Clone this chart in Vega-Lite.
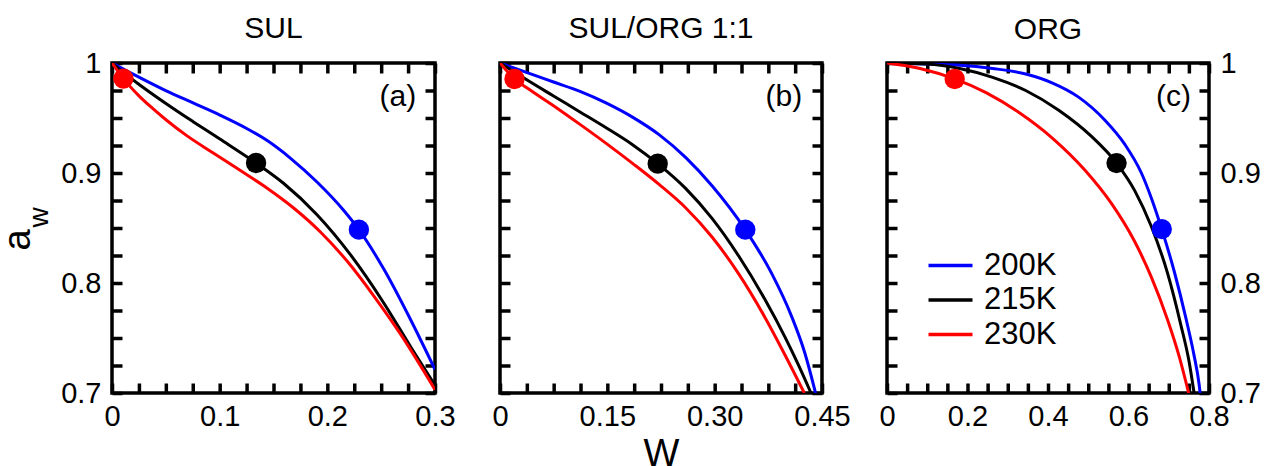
{
  "$schema": "https://vega.github.io/schema/vega-lite/v6.json",
  "background": "white",
  "padding": {"left": -3, "top": 12, "right": 5, "bottom": 0},
  "bounds": "flush",
  "spacing": 65,
  "config": {
    "view": {"stroke": "black", "strokeWidth": 3.5},
    "font": "Liberation Sans",
    "axis": {"domain": false, "grid": false, "tickColor": "black", "tickWidth": 3.5, "tickSize": -10, "tickRound": false,
      "labelFont": "Liberation Sans", "labelFontSize": 29, "labelColor": "black", "labelFlush": false, "labelOverlap": false, "labelBound": false,
      "titleFont": "Liberation Sans", "titleFontWeight": "normal", "titleColor": "black"},
    "title": {"font": "Liberation Sans", "fontSize": 30, "fontWeight": "normal", "color": "black", "baseline": "alphabetic", "frame": "group", "anchor": "middle"}
  },
  "datasets": {
    "curves": [
      {"panel":"a","T":"200K","W":0,"aw":1.0},{"panel":"a","T":"200K","W":0.0255,"aw":0.9869},{"panel":"a","T":"200K","W":0.0504,"aw":0.9747},{"panel":"a","T":"200K","W":0.0753,"aw":0.9637},{"panel":"a","T":"200K","W":0.1002,"aw":0.9527},{"panel":"a","T":"200K","W":0.1251,"aw":0.9405},{"panel":"a","T":"200K","W":0.1438,"aw":0.9297},{"panel":"a","T":"200K","W":0.1656,"aw":0.9136},{"panel":"a","T":"200K","W":0.1904,"aw":0.8918},{"panel":"a","T":"200K","W":0.2153,"aw":0.8659},{"panel":"a","T":"200K","W":0.2293,"aw":0.8485},{"panel":"a","T":"200K","W":0.2527,"aw":0.8122},{"panel":"a","T":"200K","W":0.2776,"aw":0.7661},{"panel":"a","T":"200K","W":0.30,"aw":0.7213},
      {"panel":"a","T":"215K","W":0,"aw":1.0},{"panel":"a","T":"215K","W":0.0131,"aw":0.9894},{"panel":"a","T":"215K","W":0.0255,"aw":0.9803},{"panel":"a","T":"215K","W":0.0504,"aw":0.9630},{"panel":"a","T":"215K","W":0.0753,"aw":0.9467},{"panel":"a","T":"215K","W":0.1002,"aw":0.9309},{"panel":"a","T":"215K","W":0.1338,"aw":0.9091},{"panel":"a","T":"215K","W":0.1593,"aw":0.8907},{"panel":"a","T":"215K","W":0.1904,"aw":0.8621},{"panel":"a","T":"215K","W":0.2216,"aw":0.8256},{"panel":"a","T":"215K","W":0.2527,"aw":0.7814},{"panel":"a","T":"215K","W":0.2776,"aw":0.7416},{"panel":"a","T":"215K","W":0.30,"aw":0.7069},
      {"panel":"a","T":"230K","W":0,"aw":1.0},{"panel":"a","T":"230K","W":0.0106,"aw":0.9858},{"panel":"a","T":"230K","W":0.0255,"aw":0.9697},{"panel":"a","T":"230K","W":0.038,"aw":0.9585},{"panel":"a","T":"230K","W":0.0504,"aw":0.9482},{"panel":"a","T":"230K","W":0.0691,"aw":0.9342},{"panel":"a","T":"230K","W":0.094,"aw":0.9182},{"panel":"a","T":"230K","W":0.1189,"aw":0.9024},{"panel":"a","T":"230K","W":0.1438,"aw":0.8864},{"panel":"a","T":"230K","W":0.1687,"aw":0.8682},{"panel":"a","T":"230K","W":0.1936,"aw":0.8464},{"panel":"a","T":"230K","W":0.2185,"aw":0.8197},{"panel":"a","T":"230K","W":0.2434,"aw":0.7879},{"panel":"a","T":"230K","W":0.2683,"aw":0.7530},{"panel":"a","T":"230K","W":0.30,"aw":0.7030},

      {"panel":"b","T":"200K","W":0,"aw":1.0},{"panel":"b","T":"200K","W":0.0379,"aw":0.9912},{"panel":"b","T":"200K","W":0.0748,"aw":0.9827},{"panel":"b","T":"200K","W":0.1118,"aw":0.9742},{"panel":"b","T":"200K","W":0.1488,"aw":0.9635},{"panel":"b","T":"200K","W":0.1857,"aw":0.9506},{"panel":"b","T":"200K","W":0.2227,"aw":0.9347},{"panel":"b","T":"200K","W":0.2597,"aw":0.9140},{"panel":"b","T":"200K","W":0.2966,"aw":0.8882},{"panel":"b","T":"200K","W":0.3428,"aw":0.8485},{"panel":"b","T":"200K","W":0.3798,"aw":0.8085},{"panel":"b","T":"200K","W":0.4075,"aw":0.7697},{"panel":"b","T":"200K","W":0.4260,"aw":0.7364},{"panel":"b","T":"200K","W":0.4389,"aw":0.7054},{"panel":"b","T":"200K","W":0.4410,"aw":0.70},
      {"panel":"b","T":"215K","W":0,"aw":1.0},{"panel":"b","T":"215K","W":0.0379,"aw":0.9845},{"panel":"b","T":"215K","W":0.0748,"aw":0.9700},{"panel":"b","T":"215K","W":0.1118,"aw":0.9555},{"panel":"b","T":"215K","W":0.1488,"aw":0.9409},{"panel":"b","T":"215K","W":0.1857,"aw":0.9255},{"panel":"b","T":"215K","W":0.2204,"aw":0.9085},{"panel":"b","T":"215K","W":0.2597,"aw":0.8858},{"panel":"b","T":"215K","W":0.2966,"aw":0.8585},{"panel":"b","T":"215K","W":0.3336,"aw":0.8245},{"panel":"b","T":"215K","W":0.3705,"aw":0.7847},{"panel":"b","T":"215K","W":0.3983,"aw":0.7508},{"panel":"b","T":"215K","W":0.4167,"aw":0.7260},{"panel":"b","T":"215K","W":0.4346,"aw":0.70},
      {"panel":"b","T":"230K","W":0,"aw":1.0},{"panel":"b","T":"230K","W":0.0203,"aw":0.9855},{"panel":"b","T":"230K","W":0.0379,"aw":0.9773},{"panel":"b","T":"230K","W":0.0748,"aw":0.9612},{"panel":"b","T":"230K","W":0.1118,"aw":0.9442},{"panel":"b","T":"230K","W":0.1488,"aw":0.9267},{"panel":"b","T":"230K","W":0.1857,"aw":0.9085},{"panel":"b","T":"230K","W":0.2227,"aw":0.8894},{"panel":"b","T":"230K","W":0.2597,"aw":0.8682},{"panel":"b","T":"230K","W":0.2966,"aw":0.8416},{"panel":"b","T":"230K","W":0.3336,"aw":0.8083},{"panel":"b","T":"230K","W":0.3705,"aw":0.7685},{"panel":"b","T":"230K","W":0.3983,"aw":0.7346},{"panel":"b","T":"230K","W":0.4253,"aw":0.70},

      {"panel":"c","T":"200K","W":0,"aw":1.0},{"panel":"c","T":"200K","W":0.098,"aw":0.999},{"panel":"c","T":"200K","W":0.1805,"aw":0.998},{"panel":"c","T":"200K","W":0.2626,"aw":0.995},{"panel":"c","T":"200K","W":0.3446,"aw":0.990},{"panel":"c","T":"200K","W":0.41,"aw":0.982},{"panel":"c","T":"200K","W":0.476,"aw":0.969},{"panel":"c","T":"200K","W":0.5415,"aw":0.948},{"panel":"c","T":"200K","W":0.591,"aw":0.926},{"panel":"c","T":"200K","W":0.632,"aw":0.900},{"panel":"c","T":"200K","W":0.656,"aw":0.878},{"panel":"c","T":"200K","W":0.6826,"aw":0.849},{"panel":"c","T":"200K","W":0.714,"aw":0.810},{"panel":"c","T":"200K","W":0.7426,"aw":0.768},{"panel":"c","T":"200K","W":0.763,"aw":0.734},{"panel":"c","T":"200K","W":0.7754,"aw":0.708},{"panel":"c","T":"200K","W":0.778,"aw":0.70},
      {"panel":"c","T":"215K","W":0,"aw":1.0},{"panel":"c","T":"215K","W":0.098,"aw":0.999},{"panel":"c","T":"215K","W":0.1805,"aw":0.995},{"panel":"c","T":"215K","W":0.2626,"aw":0.987},{"panel":"c","T":"215K","W":0.3446,"aw":0.975},{"panel":"c","T":"215K","W":0.4267,"aw":0.957},{"panel":"c","T":"215K","W":0.5087,"aw":0.933},{"panel":"c","T":"215K","W":0.5703,"aw":0.909},{"panel":"c","T":"215K","W":0.6154,"aw":0.884},{"panel":"c","T":"215K","W":0.656,"aw":0.852},{"panel":"c","T":"215K","W":0.697,"aw":0.809},{"panel":"c","T":"215K","W":0.730,"aw":0.762},{"panel":"c","T":"215K","W":0.7508,"aw":0.728},{"panel":"c","T":"215K","W":0.763,"aw":0.70},
      {"panel":"c","T":"230K","W":0,"aw":1.0},{"panel":"c","T":"230K","W":0.082,"aw":0.995},{"panel":"c","T":"230K","W":0.1682,"aw":0.9855},{"panel":"c","T":"230K","W":0.246,"aw":0.973},{"panel":"c","T":"230K","W":0.328,"aw":0.955},{"panel":"c","T":"230K","W":0.41,"aw":0.932},{"panel":"c","T":"230K","W":0.492,"aw":0.9025},{"panel":"c","T":"230K","W":0.558,"aw":0.8721},{"panel":"c","T":"230K","W":0.615,"aw":0.8379},{"panel":"c","T":"230K","W":0.656,"aw":0.806},{"panel":"c","T":"230K","W":0.697,"aw":0.7666},{"panel":"c","T":"230K","W":0.725,"aw":0.7344},{"panel":"c","T":"230K","W":0.7495,"aw":0.70}
    ],
    "dots": [
      {"panel":"a","T":"230K","W":0.0106,"aw":0.9858},{"panel":"a","T":"215K","W":0.1338,"aw":0.9091},{"panel":"a","T":"200K","W":0.2293,"aw":0.8485},
      {"panel":"b","T":"230K","W":0.0203,"aw":0.9855},{"panel":"b","T":"215K","W":0.2204,"aw":0.9085},{"panel":"b","T":"200K","W":0.3428,"aw":0.8485},
      {"panel":"c","T":"230K","W":0.1682,"aw":0.9855},{"panel":"c","T":"215K","W":0.5703,"aw":0.909},{"panel":"c","T":"200K","W":0.6826,"aw":0.849}
    ]
  },
  "resolve": {"scale": {"color": "independent", "fill": "independent"}, "legend": {"color": "independent", "fill": "independent"}},
  "hconcat": [
    {
      "width": 323, "height": 330,
      "title": {"text": "SUL", "offset": 5},
      "layer": [
        {
          "data": {"name": "curves"},
          "transform": [{"filter": "datum.panel == 'a'"}],
          "mark": {"type": "line", "strokeWidth": 3, "interpolate": "monotone", "clip": true},
          "encoding": {
            "x": {"field": "W", "type": "quantitative", "scale": {"domain": [0, 0.3], "nice": false, "zero": false},
              "axis": {"orient": "bottom", "title": null, "values": [0,0.025,0.05,0.075,0.1,0.125,0.15,0.175,0.2,0.225,0.25,0.275,0.3], "labelPadding": 19,
                "labelExpr": "abs(datum.value*10 - round(datum.value*10)) < 1e-6 ? (datum.value == 0 ? '0' : format(datum.value, '.1f')) : ''",
                "encode": {"ticks": {"y2": {"condition": {"test": "abs(datum.value*10 - round(datum.value*10)) < 1e-6", "value": -20}, "value": -10}}}}},
            "y": {"field": "aw", "type": "quantitative", "scale": {"domain": [0.7, 1], "nice": false, "zero": false},
              "axis": {"orient": "left", "title": "a", "titleFontSize": 38, "titleAngle": 270, "titleAlign": "left", "titleBaseline": "alphabetic", "titleX": -83, "titleY": 187,
                "values": [0.7,0.725,0.75,0.775,0.8,0.825,0.85,0.875,0.9,0.925,0.95,0.975,1], "labelPadding": 21,
                "labelExpr": "abs(datum.value*10 - round(datum.value*10)) < 1e-6 ? (datum.value == 1 ? '1' : format(datum.value, '.1f')) : ''",
                "encode": {"ticks": {"x2": {"condition": {"test": "abs(datum.value*10 - round(datum.value*10)) < 1e-6", "value": 20}, "value": 10}}}}},
            "color": {"field": "T", "type": "nominal", "scale": {"domain": ["200K","215K","230K"], "range": ["#0000ff","#000000","#ff0000"]}, "legend": null}
          }
        },
        {
          "data": {"name": "dots"},
          "transform": [{"filter": "datum.panel == 'a'"}],
          "mark": {"type": "circle", "size": 415, "opacity": 1},
          "encoding": {
            "x": {"field": "W", "type": "quantitative",
              "axis": {"orient": "top", "title": null, "labels": false, "values": [0,0.025,0.05,0.075,0.1,0.125,0.15,0.175,0.2,0.225,0.25,0.275,0.3],
                "encode": {"ticks": {"y2": {"condition": {"test": "abs(datum.value*10 - round(datum.value*10)) < 1e-6", "value": 20}, "value": 10}}}}},
            "y": {"field": "aw", "type": "quantitative",
              "axis": {"orient": "right", "title": null, "labels": false, "values": [0.7,0.725,0.75,0.775,0.8,0.825,0.85,0.875,0.9,0.925,0.95,0.975,1],
                "encode": {"ticks": {"x2": {"condition": {"test": "abs(datum.value*10 - round(datum.value*10)) < 1e-6", "value": -20}, "value": -10}}}}},
            "fill": {"field": "T", "type": "nominal", "scale": {"domain": ["200K","215K","230K"], "range": ["#0000ff","#000000","#ff0000"]}, "legend": null}
          }
        },
        {
          "data": {"values": [{}]},
          "mark": {"type": "text", "text": "(a)", "fontSize": 30, "align": "right", "baseline": "alphabetic", "color": "black", "font": "Liberation Sans"},
          "encoding": {
            "x": {"datum": 0.2826, "type": "quantitative", "axis": null},
            "y": {"datum": 0.9605, "type": "quantitative",
              "axis": {"orient": "left", "title": "w", "titleFontSize": 28, "titleAngle": 270, "titleAlign": "left", "titleBaseline": "alphabetic", "titleX": -65, "titleY": 164,
                "labels": false, "ticks": false, "domain": false}}
          }
        }
      ],
      "resolve": {"axis": {"x": "independent", "y": "independent"}}
    },
    {
      "width": 322, "height": 330,
      "title": {"text": "SUL/ORG 1:1", "offset": 17},
      "layer": [
        {
          "data": {"name": "curves"},
          "transform": [{"filter": "datum.panel == 'b'"}],
          "mark": {"type": "line", "strokeWidth": 3, "interpolate": "monotone", "clip": true},
          "encoding": {
            "x": {"field": "W", "type": "quantitative", "scale": {"domain": [0, 0.45], "nice": false, "zero": false},
              "axis": {"orient": "bottom", "title": "W", "titleFontSize": 38, "titleBaseline": "alphabetic", "titleY": 72,
                "values": [0,0.0375,0.075,0.1125,0.15,0.1875,0.225,0.2625,0.3,0.3375,0.375,0.4125,0.45], "labelPadding": 19,
                "labelExpr": "abs(datum.value/0.15 - round(datum.value/0.15)) < 1e-6 ? (datum.value == 0 ? '0' : format(datum.value, '.2f')) : ''",
                "encode": {"ticks": {"y2": {"condition": {"test": "abs(datum.value/0.15 - round(datum.value/0.15)) < 1e-6", "value": -20}, "value": -10}}}}},
            "y": {"field": "aw", "type": "quantitative", "scale": {"domain": [0.7, 1], "nice": false, "zero": false},
              "axis": {"orient": "left", "title": null, "labels": false,
                "values": [0.7,0.725,0.75,0.775,0.8,0.825,0.85,0.875,0.9,0.925,0.95,0.975,1],
                "encode": {"ticks": {"x2": {"condition": {"test": "abs(datum.value*10 - round(datum.value*10)) < 1e-6", "value": 20}, "value": 10}}}}},
            "color": {"field": "T", "type": "nominal", "scale": {"domain": ["200K","215K","230K"], "range": ["#0000ff","#000000","#ff0000"]}, "legend": null}
          }
        },
        {
          "data": {"name": "dots"},
          "transform": [{"filter": "datum.panel == 'b'"}],
          "mark": {"type": "circle", "size": 415, "opacity": 1},
          "encoding": {
            "x": {"field": "W", "type": "quantitative",
              "axis": {"orient": "top", "title": null, "labels": false, "values": [0,0.0375,0.075,0.1125,0.15,0.1875,0.225,0.2625,0.3,0.3375,0.375,0.4125,0.45],
                "encode": {"ticks": {"y2": {"condition": {"test": "abs(datum.value/0.15 - round(datum.value/0.15)) < 1e-6", "value": 20}, "value": 10}}}}},
            "y": {"field": "aw", "type": "quantitative",
              "axis": {"orient": "right", "title": null, "labels": false, "values": [0.7,0.725,0.75,0.775,0.8,0.825,0.85,0.875,0.9,0.925,0.95,0.975,1],
                "encode": {"ticks": {"x2": {"condition": {"test": "abs(datum.value*10 - round(datum.value*10)) < 1e-6", "value": -20}, "value": -10}}}}},
            "fill": {"field": "T", "type": "nominal", "scale": {"domain": ["200K","215K","230K"], "range": ["#0000ff","#000000","#ff0000"]}, "legend": null}
          }
        },
        {
          "data": {"values": [{}]},
          "mark": {"type": "text", "text": "(b)", "fontSize": 30, "align": "right", "baseline": "alphabetic", "color": "black", "font": "Liberation Sans"},
          "encoding": {
            "x": {"datum": 0.4224, "type": "quantitative", "axis": null},
            "y": {"datum": 0.9605, "type": "quantitative", "axis": null}
          }
        }
      ],
      "resolve": {"axis": {"x": "independent", "y": "independent"}}
    },
    {
      "width": 322, "height": 330,
      "title": {"text": "ORG", "offset": 4},
      "layer": [
        {
          "data": {"name": "curves"},
          "transform": [{"filter": "datum.panel == 'c'"}],
          "mark": {"type": "line", "strokeWidth": 3, "interpolate": "monotone", "clip": true},
          "encoding": {
            "x": {"field": "W", "type": "quantitative", "scale": {"domain": [0, 0.8], "nice": false, "zero": false},
              "axis": {"orient": "bottom", "title": null,
                "values": [0,0.05,0.1,0.15,0.2,0.25,0.3,0.35,0.4,0.45,0.5,0.55,0.6,0.65,0.7,0.75,0.8], "labelPadding": 19,
                "labelExpr": "abs(datum.value*5 - round(datum.value*5)) < 1e-6 ? (datum.value == 0 ? '0' : format(datum.value, '.1f')) : ''",
                "encode": {"ticks": {"y2": {"condition": {"test": "abs(datum.value*5 - round(datum.value*5)) < 1e-6", "value": -20}, "value": -10}}}}},
            "y": {"field": "aw", "type": "quantitative", "scale": {"domain": [0.7, 1], "nice": false, "zero": false},
              "axis": {"orient": "left", "title": null, "labels": false,
                "values": [0.7,0.725,0.75,0.775,0.8,0.825,0.85,0.875,0.9,0.925,0.95,0.975,1],
                "encode": {"ticks": {"x2": {"condition": {"test": "abs(datum.value*10 - round(datum.value*10)) < 1e-6", "value": 20}, "value": 10}}}}},
            "color": {"field": "T", "type": "nominal", "scale": {"domain": ["200K","215K","230K"], "range": ["#0000ff","#000000","#ff0000"]},
              "legend": {"orient": "none", "legendX": 48, "legendY": 187, "direction": "vertical", "title": null, "padding": 0,
                "symbolType": "M-2,0H2", "symbolSize": 484, "symbolStrokeWidth": 3.5, "symbolFillColor": "transparent",
                "labelFont": "Liberation Sans", "labelFontSize": 31, "labelColor": "black", "labelOffset": 18, "rowPadding": 2.5}}
          }
        },
        {
          "data": {"name": "dots"},
          "transform": [{"filter": "datum.panel == 'c'"}],
          "mark": {"type": "circle", "size": 415, "opacity": 1},
          "encoding": {
            "x": {"field": "W", "type": "quantitative",
              "axis": {"orient": "top", "title": null, "labels": false, "values": [0,0.05,0.1,0.15,0.2,0.25,0.3,0.35,0.4,0.45,0.5,0.55,0.6,0.65,0.7,0.75,0.8],
                "encode": {"ticks": {"y2": {"condition": {"test": "abs(datum.value*5 - round(datum.value*5)) < 1e-6", "value": 20}, "value": 10}}}}},
            "y": {"field": "aw", "type": "quantitative",
              "axis": {"orient": "right", "title": null, "labelPadding": 21, "values": [0.7,0.725,0.75,0.775,0.8,0.825,0.85,0.875,0.9,0.925,0.95,0.975,1],
                "labelExpr": "abs(datum.value*10 - round(datum.value*10)) < 1e-6 ? (datum.value == 1 ? '1' : format(datum.value, '.1f')) : ''",
                "encode": {"ticks": {"x2": {"condition": {"test": "abs(datum.value*10 - round(datum.value*10)) < 1e-6", "value": -20}, "value": -10}}}}},
            "fill": {"field": "T", "type": "nominal", "scale": {"domain": ["200K","215K","230K"], "range": ["#0000ff","#000000","#ff0000"]}, "legend": null}
          }
        },
        {
          "data": {"values": [{}]},
          "mark": {"type": "text", "text": "(c)", "fontSize": 30, "align": "right", "baseline": "alphabetic", "color": "black", "font": "Liberation Sans"},
          "encoding": {
            "x": {"datum": 0.755, "type": "quantitative", "axis": null},
            "y": {"datum": 0.9605, "type": "quantitative", "axis": null}
          }
        }
      ],
      "resolve": {"axis": {"x": "independent", "y": "independent"}}
    }
  ]
}
